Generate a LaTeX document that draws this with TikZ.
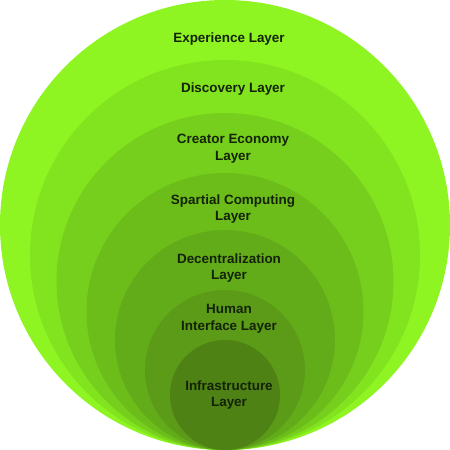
\documentclass[tikz,border=0pt]{standalone}
\usepackage{fontspec}
\setmainfont{Liberation Sans}
\definecolor{cA}{RGB}{143,245,34}
\definecolor{cB}{RGB}{130,228,30}
\definecolor{cC}{RGB}{118,207,28}
\definecolor{cD}{RGB}{108,189,26}
\definecolor{cE}{RGB}{99,172,25}
\definecolor{cF}{RGB}{91,155,23}
\definecolor{cG}{RGB}{79,130,21}
\definecolor{txt}{RGB}{20,34,8}
\tikzset{
  ring/.style={circle, inner sep=0pt, outer sep=0pt, draw=none, anchor=south},
  lbl/.style={font=\fontsize{13.5}{17}\selectfont\bfseries, text=txt, align=center, inner sep=0pt}
}
\begin{document}
\begin{tikzpicture}[x=1bp,y=-1bp]
\fill[white] (0,0) rectangle (450,450);
\useasboundingbox (0,0) rectangle (450,450);
\coordinate (base) at (225,450);
\node[ring, fill=cA, minimum size=450bp] (r1) at (base) {};
\node[ring, fill=cB, minimum size=390bp] (r2) at (base) {};
\node[ring, fill=cC, minimum size=337bp] (r3) at (base) {};
\node[ring, fill=cD, minimum size=277bp] (r4) at (base) {};
\node[ring, fill=cE, minimum size=220bp] (r5) at (base) {};
\node[ring, fill=cF, minimum size=160bp] (r6) at (base) {};
\node[ring, fill=cG, minimum size=110bp] (r7) at (base) {};
\node[lbl] (t1) at (229,39) {Experience Layer};
\node[lbl] (t2) at (233,89) {Discovery Layer};
\node[lbl] (t3) at (233,149) {Creator Economy\\Layer};
\node[lbl] (t4) at (233,209) {Spartial Computing\\Layer};
\node[lbl] (t5) at (229,268) {Decentralization\\Layer};
\node[lbl] (t6) at (229,319) {Human\\Interface Layer};
\node[lbl] (t7) at (229,395) {Infrastructure\\Layer};
\end{tikzpicture}
\end{document}
